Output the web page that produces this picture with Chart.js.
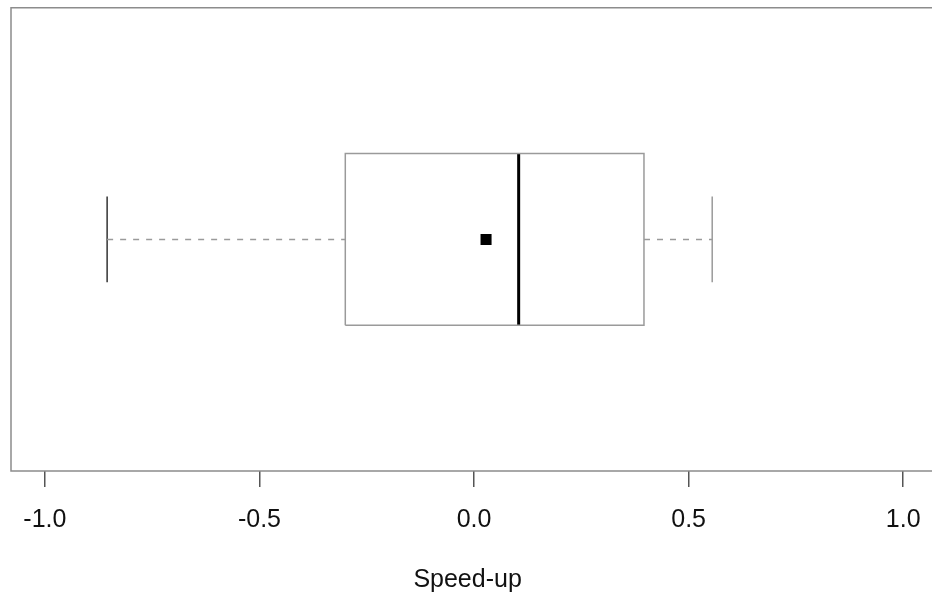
<!DOCTYPE html>
<html>
<head>
<meta charset="utf-8">
<script src="https://cdn.jsdelivr.net/npm/chart.js@4"></script>
<style>
  html, body { margin: 0; padding: 0; background: #fff; overflow: hidden; }
  canvas { display: block; }
</style>
</head>
<body>
<canvas id="boxChart" width="932" height="601"></canvas>
<script>
// Box summary (one group)
const groups = ["Speed-up"];
const lowWhisker = [-0.855];
const lowerQuartile = [-0.300];
const medians = [0.104];
const upperQuartile = [0.396];
const highWhisker = [0.555];
const means = [0.028];
const xTicks = [-1.0, -0.5, 0.0, 0.5, 1.0];

const boxHalf = 0.2;
const capHalf = 0.1;

const grey = "#9a9a9a";
const datasets = [];

groups.forEach((g, i) => {
  const y = i + 1;
  const lo = lowWhisker[i], q1 = lowerQuartile[i], md = medians[i];
  const q3 = upperQuartile[i], hi = highWhisker[i];

  // dashed whiskers
  datasets.push({ data: [{x: lo, y}, {x: q1, y}], borderColor: grey, borderWidth: 1.5, borderDash: [6, 7] });
  datasets.push({ data: [{x: q3, y}, {x: hi, y}], borderColor: grey, borderWidth: 1.5, borderDash: [6, 7] });
  // staples
  datasets.push({ data: [{x: lo, y: y - capHalf}, {x: lo, y: y + capHalf}], borderColor: "#333", borderWidth: 1.5 });
  datasets.push({ data: [{x: hi, y: y - capHalf}, {x: hi, y: y + capHalf}], borderColor: grey, borderWidth: 1.5 });
  // box
  datasets.push({
    data: [
      {x: q1, y: y - boxHalf}, {x: q3, y: y - boxHalf},
      {x: q3, y: y + boxHalf}, {x: q1, y: y + boxHalf},
      {x: q1, y: y - boxHalf}
    ],
    borderColor: grey, borderWidth: 1.5
  });
  // median
  datasets.push({ data: [{x: md, y: y - boxHalf}, {x: md, y: y + boxHalf}], borderColor: "#000", borderWidth: 3 });
  // mean marker
  datasets.push({
    data: [{x: means[i], y}],
    showLine: false,
    pointStyle: "rect",
    pointRadius: 7.8,
    backgroundColor: "#000",
    borderWidth: 0
  });
});

datasets.forEach(d => {
  if (d.showLine === undefined) {
    d.showLine = true;
    d.pointRadius = 0;
    d.fill = false;
  }
});

// left, top and bottom edges of the plot frame (right edge is off the picture)
const framePlugin = {
  id: "frame",
  afterDraw(chart) {
    const { ctx, chartArea: a } = chart;
    ctx.save();
    ctx.strokeStyle = "#8c8c8c";
    ctx.lineWidth = 1.5;
    ctx.beginPath();
    ctx.moveTo(chart.width, a.top);
    ctx.lineTo(a.left, a.top);
    ctx.lineTo(a.left, a.bottom);
    ctx.lineTo(chart.width, a.bottom);
    ctx.stroke();
    ctx.restore();
  }
};

new Chart(document.getElementById("boxChart").getContext("2d"), {
  type: "scatter",
  data: { datasets },
  plugins: [framePlugin],
  options: {
    responsive: false,
    animation: false,
    layout: { padding: { left: 11, top: 5, right: 0, bottom: 6 } },
    plugins: { legend: { display: false }, tooltip: { enabled: false } },
    scales: {
      x: {
        type: "linear",
        min: -1.079,
        max: 1.049,
        afterBuildTicks: scale => { scale.ticks = xTicks.map(v => ({ value: v })); },
        afterFit: scale => { scale.paddingLeft = 0; scale.paddingRight = 0; },
        grid: { drawOnChartArea: false, drawTicks: true, tickLength: 16, color: "#555", lineWidth: 1.5 },
        border: { display: false },
        ticks: {
          padding: 18,
          color: "#111",
          font: { family: "Liberation Sans", size: 25 },
          callback: v => v.toFixed(1)
        },
        title: {
          display: true,
          text: "Speed-up",
          color: "#111",
          font: { family: "Liberation Sans", size: 25 },
          padding: { top: 12, bottom: 0 }
        }
      },
      y: {
        type: "linear",
        display: false,
        min: 0.46,
        max: 1.54
      }
    }
  }
});
</script>
</body>
</html>
